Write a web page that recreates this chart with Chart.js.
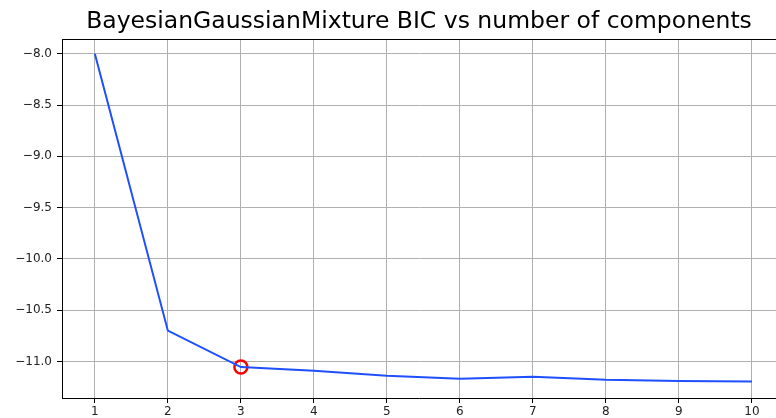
<!DOCTYPE html>
<html lang="en">
<head>
    <meta charset="UTF-8">
    <title>BayesianGaussianMixture BIC</title>
    <style>
        body {
            margin: 0;
            background-color: #ffffff;
            overflow: hidden;
        }
    </style>
    <script src="https://cdn.jsdelivr.net/npm/chart.js"></script>
</head>
<body>
    <canvas id="bicChart" width="776" height="418"></canvas>

    <script>
        // data
        const components = [1, 2, 3, 4, 5, 6, 7, 8, 9, 10];
        const bicValues = [-8.0, -10.70, -11.055, -11.09, -11.14, -11.17, -11.15, -11.18, -11.19, -11.195];
        const bestComponents = 3;
        const xTicks = [1, 2, 3, 4, 5, 6, 7, 8, 9, 10];
        const yTicks = [-8.0, -8.5, -9.0, -9.5, -10.0, -10.5, -11.0];

        const fontFamily = "'DejaVu Sans', sans-serif";

        // top spine (matplotlib draws a box round the axes)
        const spinesPlugin = {
            id: 'spines',
            afterDraw(chart) {
                const { ctx, chartArea } = chart;
                ctx.save();
                ctx.strokeStyle = '#000000';
                ctx.lineWidth = 1;
                ctx.beginPath();
                ctx.moveTo(chartArea.left, Math.round(chartArea.top) + 0.5);
                ctx.lineTo(chartArea.right, Math.round(chartArea.top) + 0.5);
                ctx.stroke();
                ctx.restore();
            }
        };

        const ctx = document.getElementById('bicChart').getContext('2d');
        const bicChart = new Chart(ctx, {
            type: 'line',
            data: {
                datasets: [
                    {
                        label: 'BIC',
                        data: components.map((k, i) => ({ x: k, y: bicValues[i] })),
                        borderColor: '#1f4fff',
                        borderWidth: 2,
                        pointRadius: 0,
                        tension: 0
                    },
                    {
                        label: 'best',
                        data: [{ x: bestComponents, y: bicValues[components.indexOf(bestComponents)] }],
                        showLine: false,
                        pointStyle: 'circle',
                        pointRadius: 6.5,
                        pointBorderWidth: 2.5,
                        pointBorderColor: '#ff0000',
                        pointBackgroundColor: 'rgba(0,0,0,0)'
                    }
                ]
            },
            options: {
                responsive: false,
                animation: false,
                layout: { padding: 0, autoPadding: false },
                scales: {
                    x: {
                        type: 'linear',
                        min: 0.55,
                        max: 10.33,
                        afterBuildTicks: scale => { scale.ticks = xTicks.map(v => ({ value: v })); },
                        afterFit: scale => {
                            scale.height = 20;
                            scale.paddingLeft = 0;
                            scale.paddingRight = 0;
                        },
                        ticks: {
                            color: '#222222',
                            padding: 2,
                            font: { family: fontFamily, size: 12 },
                            callback: v => String(v)
                        },
                        grid: {
                            color: '#b0b0b0',
                            tickColor: '#000000',
                            tickLength: 5
                        },
                        border: { display: true, color: '#000000', width: 1 }
                    },
                    y: {
                        type: 'linear',
                        min: -11.357,
                        max: -7.857,
                        afterBuildTicks: scale => { scale.ticks = yTicks.map(v => ({ value: v })); },
                        afterFit: scale => { scale.width = 62; },
                        ticks: {
                            color: '#222222',
                            padding: 5,
                            font: { family: fontFamily, size: 12 },
                            callback: v => (v < 0 ? '\u2212' : '') + Math.abs(v).toFixed(1)
                        },
                        grid: {
                            color: '#b0b0b0',
                            tickColor: '#000000',
                            tickLength: 5
                        },
                        border: { display: true, color: '#000000', width: 1 }
                    }
                },
                plugins: {
                    legend: { display: false },
                    tooltip: { enabled: false },
                    title: {
                        display: true,
                        fullSize: false,
                        text: 'BayesianGaussianMixture BIC vs number of components',
                        color: '#000000',
                        font: { family: fontFamily, size: 23.5, weight: 'normal' },
                        padding: { top: 8, bottom: 3 }
                    }
                }
            },
            plugins: [spinesPlugin]
        });
    </script>
</body>
</html>
